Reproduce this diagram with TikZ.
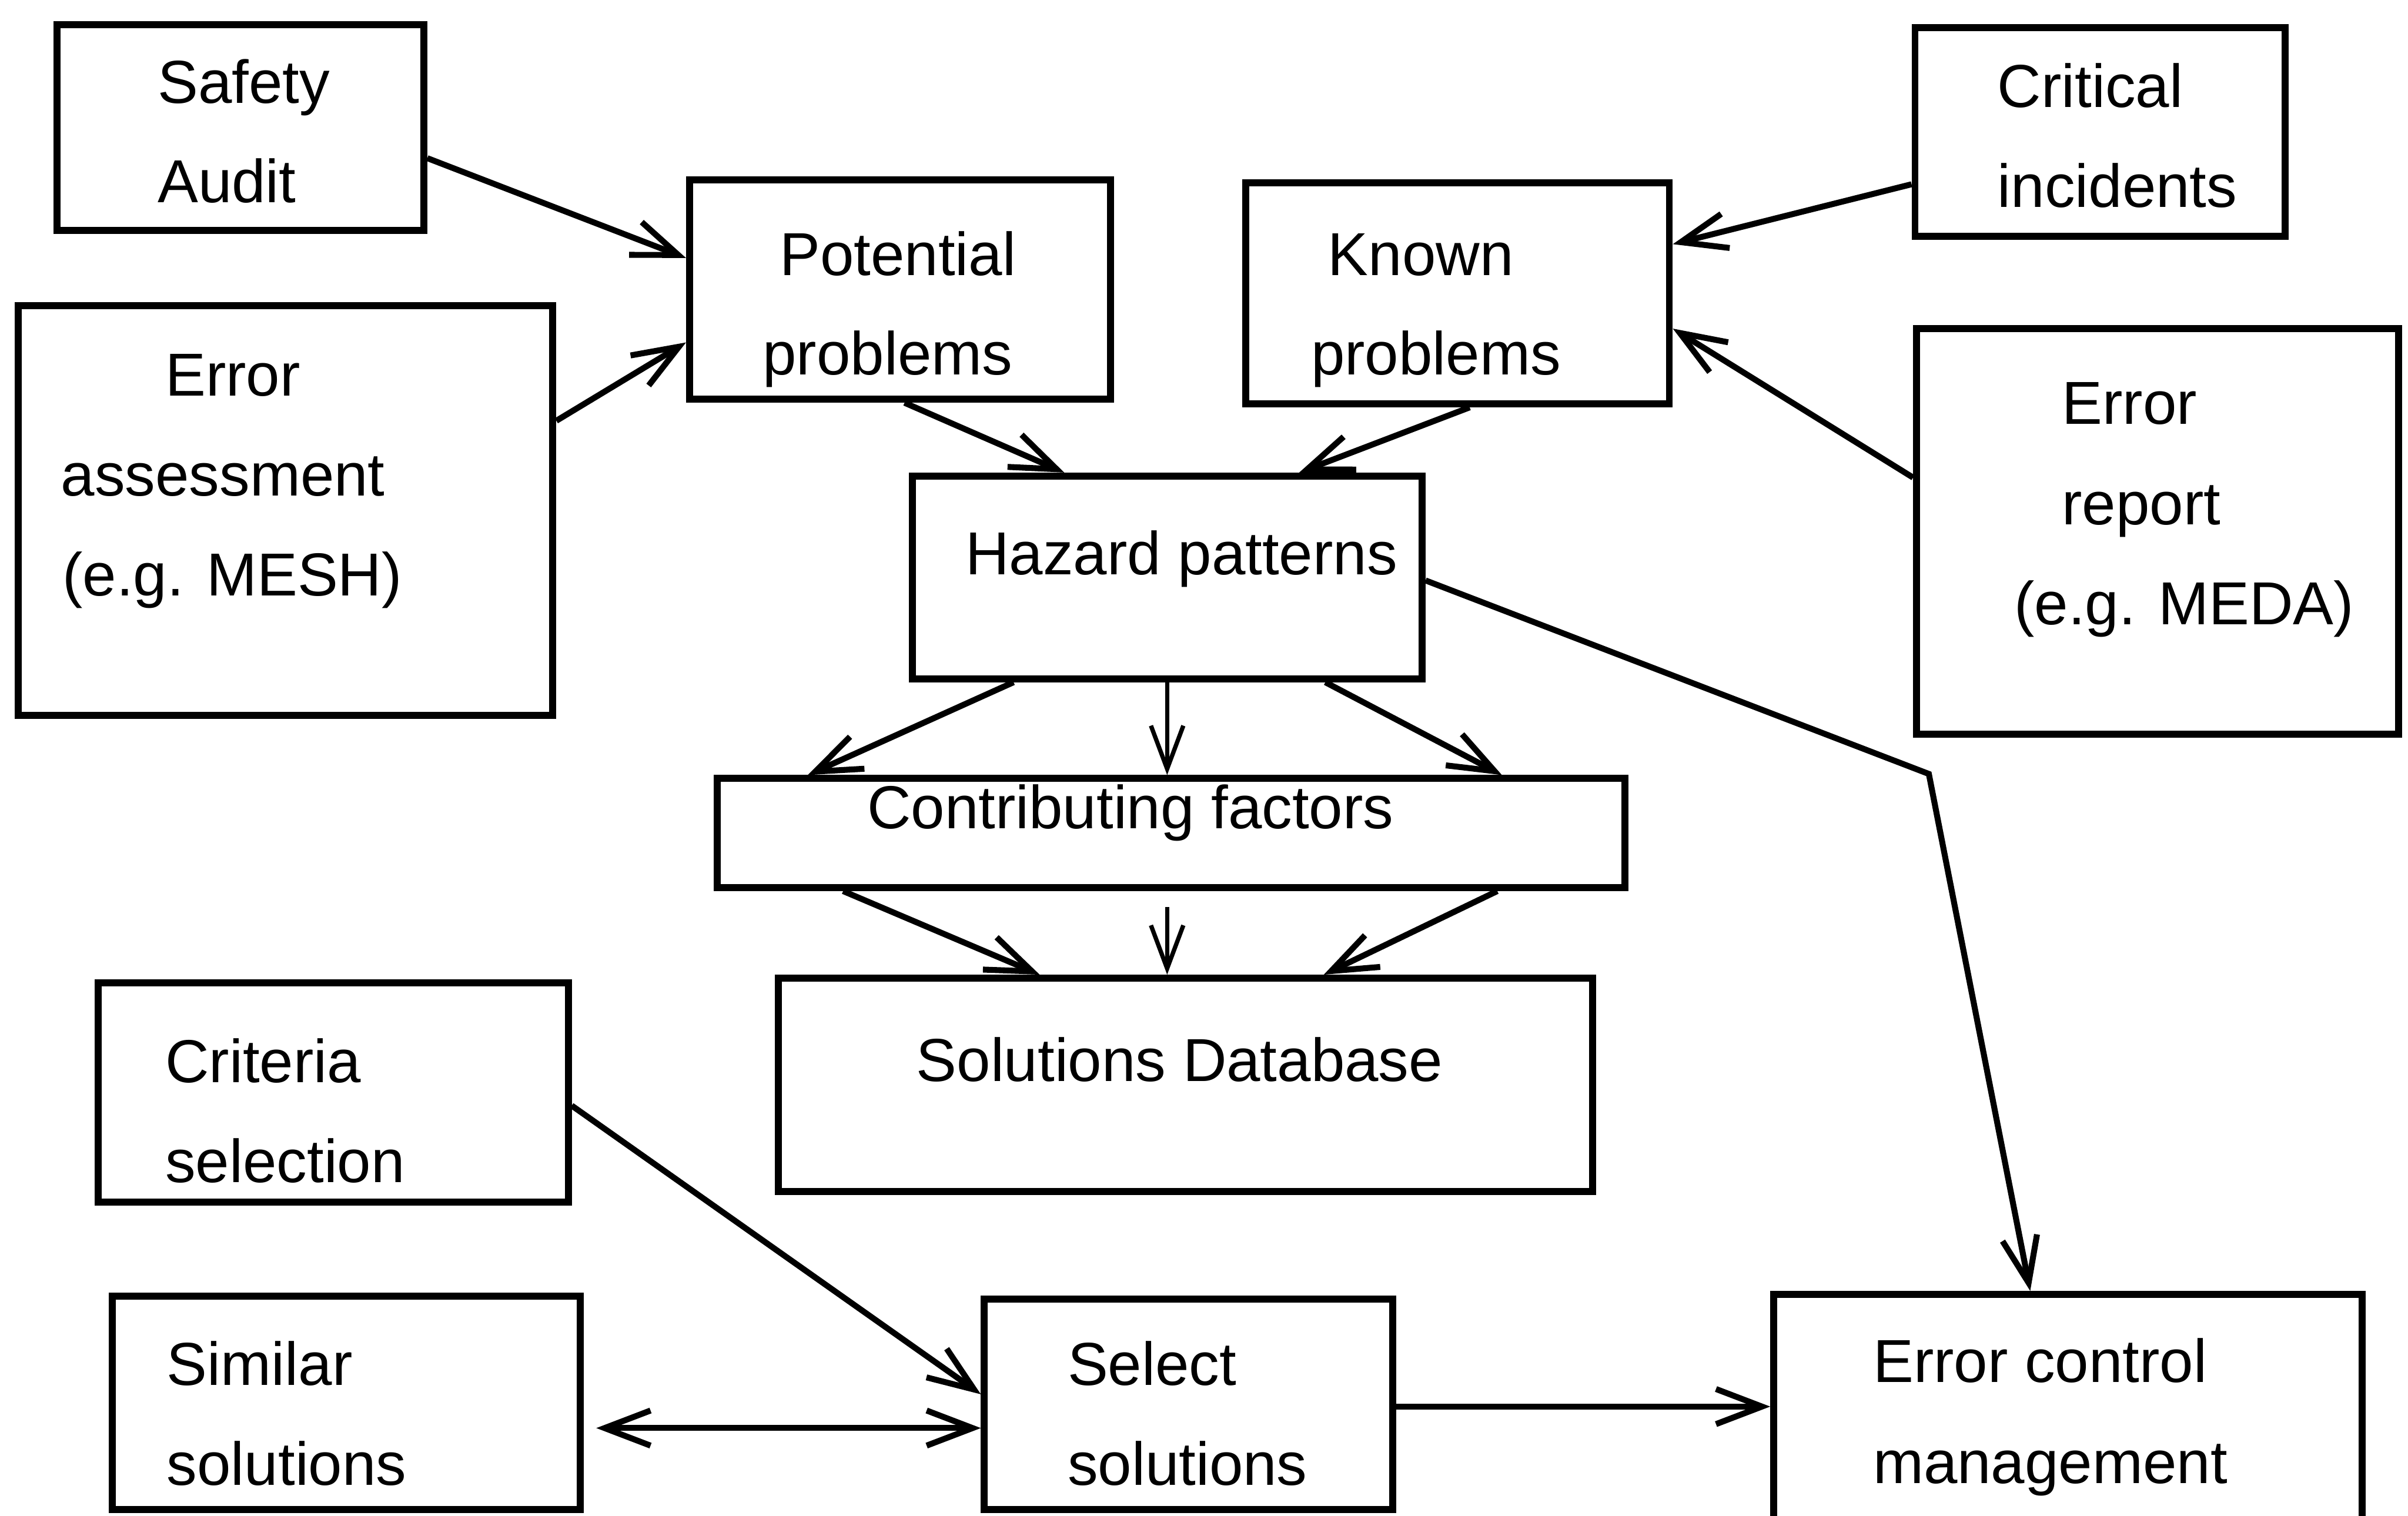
\documentclass[tikz,border=0pt]{standalone}
\usepackage{fontspec}
\setmainfont{Liberation Sans}
\usetikzlibrary{arrows.meta,fit}
\begin{document}
\begin{tikzpicture}[x=0.01cm,y=-0.01cm,
  box/.style={draw, line width=1.3pt, inner sep=0pt, outer sep=0.65pt, rectangle},
  lbl/.style={anchor=base west, inner sep=0pt, font=\fontsize{11.24pt}{13pt}\selectfont},
  tip/.tip={Straight Barb[length=8.5pt,width=6.5pt]},
  link/.style={line width=1.1pt, -tip},
  dlink/.style={line width=1.1pt, tip-tip},
  thinlink/.style={line width=0.8pt, -{Straight Barb[length=8pt,width=6pt]}}]
\useasboundingbox (0,0) rectangle (1568,987);
\clip (0,0) rectangle (1568,987);
\fill[white] (0,0) rectangle (1568,987);

% ---------- boxes ----------
\node[box, fit={(37,16)(276,150)}]     (sa) {};
\node[box, fit={(12,199)(360,466)}]    (ea) {};
\node[box, fit={(449,117)(723,260)}]   (pp) {};
\node[box, fit={(811,119)(1087,263)}]  (kp) {};
\node[box, fit={(1247,18)(1488,154)}]  (ci) {};
\node[box, fit={(1248,214)(1562,478)}] (er) {};
\node[box, fit={(594,310)(926,442)}]   (hp) {};
\node[box, fit={(467,507)(1058,578)}]  (cf) {};
\node[box, fit={(507,637)(1037,776)}]  (sd) {};
\node[box, fit={(64,640)(370,783)}]    (cs) {};
\node[box, fit={(73,844)(378,983)}]    (sm) {};
\node[box, fit={(641,846)(907,983)}]   (ss) {};
\node[box, fit={(1155,843)(1538,1010)}] (ec) {};

% ---------- labels ----------
\node[lbl] (saA) at (102,67)  {Safety};
\node[lbl] (saB) at (102,132) {Audit};
\node[lbl] (eaA) at (107,258) {Error};
\node[lbl] (eaB) at (39,323)  {assessment};
\node[lbl] (eaC) at (40,388)  {(e.g. MESH)};
\node[lbl] (ppA) at (507,179.5) {Potential};
\node[lbl] (ppB) at (496,244) {problems};
\node[lbl] (kpA) at (864,179.5) {Known};
\node[lbl] (kpB) at (853,244) {problems};
\node[lbl] (ciA) at (1300,70)  {Critical};
\node[lbl] (ciB) at (1300,135) {incidents};
\node[lbl] (erA) at (1342,276) {Error};
\node[lbl] (erB) at (1342,341.6) {report};
\node[lbl] (erC) at (1311,406.8) {(e.g. MEDA)};
\node[lbl] (hpA) at (628,374) {Hazard patterns};
\node[lbl] (cfA) at (564,539.5) {Contributing factors};
\node[lbl] (sdA) at (596,704) {Solutions Database};
\node[lbl] (csA) at (107,705) {Criteria};
\node[lbl] (csB) at (107,770) {selection};
\node[lbl] (smA) at (108,902) {Similar};
\node[lbl] (smB) at (108,967) {solutions};
\node[lbl] (ssA) at (694.5,902) {Select};
\node[lbl] (ssB) at (694.5,967) {solutions};
\node[lbl] (ecA) at (1219,900) {Error control};
\node[lbl] (ecB) at (1219,966) {management};

% ---------- connectors ----------
\draw[link] (sa.east |- 0,103) -- (pp.west |- 0,168);
\draw[link] (ea.east |- 0,274) -- (pp.west |- 0,223);
\draw[link] (pp.south -| 589,0) -- (hp.north -| 693,0);
\draw[link] (kp.south -| 957,0) -- (hp.north -| 846,0);
\draw[link] (ci.west |- 0,120) -- (kp.east |- 0,159);
\draw[link] (er.west |- 0,311) -- (kp.east |- 0,214);

\coordinate (bend) at (1256,504);
\draw[link] (hp.east |- 0,378) -- (bend) -- (ec.north -| 1322,0);

\draw[link]     (hp.south -| 660,0) -- (cf.north -| 526,0);
\draw[thinlink] (hp.south -| 760,0) -- (cf.north -| 760,0);
\draw[link]     (hp.south -| 863,0) -- (cf.north -| 978,0);

\draw[link]     (cf.south -| 549,0) -- (sd.north -| 677,0);
\draw[thinlink, shorten <=3pt] (cf.south -| 760,0) -- (sd.north -| 760,0);
\draw[link]     (cf.south -| 975,0) -- (sd.north -| 862,0);

\draw[link] (cs.east |- 0,720) -- (ss.west |- 0,908);
\draw[dlink, shorten <=0.08cm] (sm.east |- 0,930) -- (ss.west |- 0,930);
\draw[link] (ss.east |- 0,916) -- (ec.west |- 0,916);
\end{tikzpicture}
\end{document}
